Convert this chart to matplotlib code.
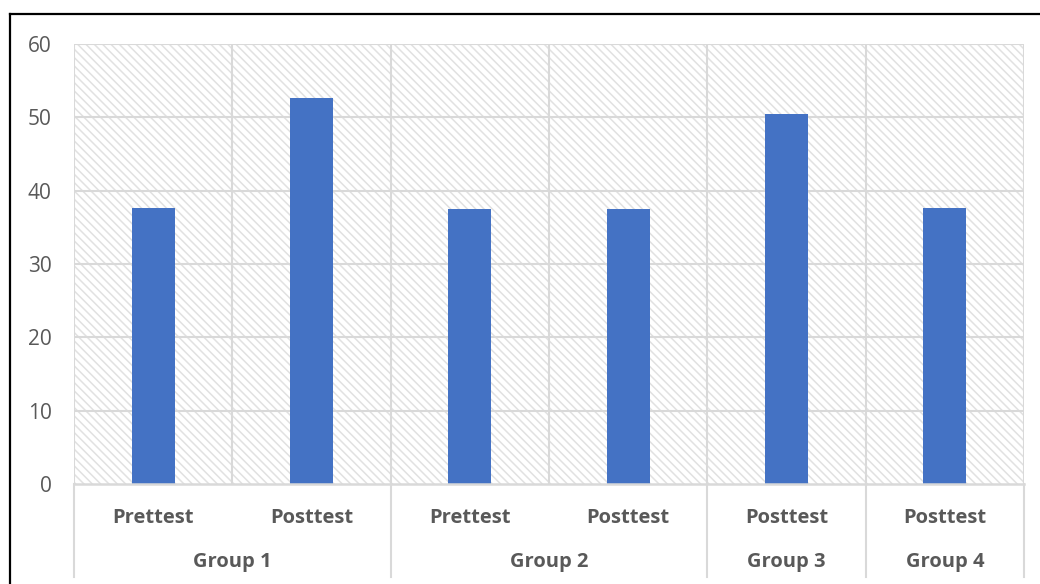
import matplotlib
matplotlib.use("Agg")
import matplotlib.pyplot as plt
from matplotlib.lines import Line2D
from matplotlib.transforms import blended_transform_factory

# Data
groups = ["Group 1", "Group 2", "Group 3", "Group 4"]
group_sizes = [2, 2, 1, 1]
tests = ["Prettest", "Posttest", "Prettest", "Posttest", "Posttest", "Posttest"]
scores = [37.6, 52.7, 37.45, 37.45, 50.45, 37.7]
y_ticks = [0, 10, 20, 30, 40, 50, 60]

BAR_COLOR = "#4472C4"
GRID_COLOR = "#d9d9d9"
HATCH_COLOR = "#e1e1e1"
TEXT_COLOR = "#595959"
FONT = ["Open Sans", "DejaVu Sans"]
FS = 14.5

plt.rcParams["font.family"] = FONT
plt.rcParams["hatch.linewidth"] = 1.1

W, H = 1040, 584
fig = plt.figure(figsize=(W / 100, H / 100), dpi=100)
fig.patch.set_facecolor("white")

left, right, top, bottom = 74, 1024, 44, 484
ax = fig.add_axes([left / W, 1 - bottom / H, (right - left) / W, (bottom - top) / H])

# Hatched plot background
ax.patch.set_facecolor("white")
ax.patch.set_edgecolor(HATCH_COLOR)
ax.patch.set_linewidth(0)
ax.patch.set_hatch("\\\\\\\\")

n = len(tests)
x = list(range(n))
ax.bar(x, scores, width=0.27, color=BAR_COLOR, zorder=3)

ax.set_xlim(-0.5, n - 0.5)
ax.set_ylim(0, 60)
ax.set_yticks(y_ticks)
ax.set_yticklabels([str(v) for v in y_ticks], fontsize=15, color=TEXT_COLOR)
ax.tick_params(axis="y", length=0, pad=16)

# Gridlines
ax.grid(False)
for v in y_ticks[1:]:
    ax.axhline(v, color=GRID_COLOR, lw=1.5, zorder=1)
for b in [i - 0.5 for i in range(n + 1)]:
    ax.axvline(b, color=GRID_COLOR, lw=1.5, zorder=1)

for s in ["top", "right", "left"]:
    ax.spines[s].set_visible(False)
ax.spines["bottom"].set_color(GRID_COLOR)
ax.spines["bottom"].set_linewidth(1.8)
ax.spines["bottom"].set_zorder(4)

# Category labels
ax.set_xticks(x)
ax.set_xticklabels(tests, fontsize=FS, fontweight="bold", color=TEXT_COLOR)
ax.tick_params(axis="x", length=0, pad=17)

# Group labels and separators below the axis
trans = blended_transform_factory(ax.transData, ax.transAxes)
depth = (577 - bottom) / (bottom - top)
group_y = -(562 - bottom) / (bottom - top)
start = -0.5
ax.add_line(Line2D([start, start], [0, -depth], transform=trans, color=GRID_COLOR,
                   lw=1.5, clip_on=False))
for g, size in zip(groups, group_sizes):
    end = start + size
    ax.text((start + end) / 2, group_y, g, transform=trans, ha="center", va="center",
            fontsize=FS, fontweight="bold", color=TEXT_COLOR)
    ax.add_line(Line2D([end, end], [0, -depth], transform=trans, color=GRID_COLOR,
                       lw=1.5, clip_on=False))
    start = end

# Outer chart border
fig.add_artist(Line2D([10 / W, 10 / W], [0, 1 - 14 / H], transform=fig.transFigure,
                      color="black", lw=1.6))
fig.add_artist(Line2D([10 / W, 1], [1 - 14 / H, 1 - 14 / H], transform=fig.transFigure,
                      color="black", lw=1.6))

fig.savefig("out.png", dpi=100)
